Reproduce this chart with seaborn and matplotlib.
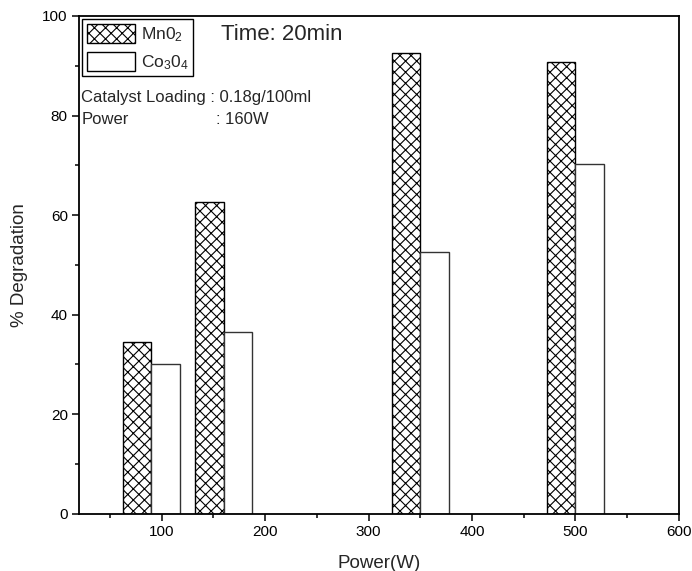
import numpy as np
import pandas as pd
import matplotlib
matplotlib.use("Agg")
import matplotlib.pyplot as plt
from matplotlib.patches import Patch
from matplotlib.ticker import MultipleLocator
import seaborn as sns

# ---- data ----
power = [90, 160, 350, 500]
mno2 = [34.5, 62.7, 92.6, 90.8]
co3o4 = [30.0, 36.6, 52.5, 70.3]
series_names = ["MnO2", "Co3O4"]
legend_labels = [r"Mn0$_2$", r"Co$_3$0$_4$"]
x_ticks = [100, 200, 300, 400, 500, 600]
y_ticks = [0, 20, 40, 60, 80, 100]

df = pd.DataFrame({
    "Power": power + power,
    "Degradation": mno2 + co3o4,
    "Catalyst": [series_names[0]] * len(power) + [series_names[1]] * len(power),
})

sns.set_style("ticks")
plt.rcParams["font.family"] = ["Liberation Sans", "DejaVu Sans"]
plt.rcParams["mathtext.fontset"] = "custom"
plt.rcParams["mathtext.rm"] = "Liberation Sans"
plt.rcParams["mathtext.it"] = "Liberation Sans:italic"
plt.rcParams["mathtext.default"] = "regular"
plt.rcParams["hatch.linewidth"] = 0.8
plt.rcParams["hatch.color"] = "black"

fig = plt.figure(figsize=(6.92, 5.71), dpi=100)
ax = fig.add_axes([0.114, 0.1004, 0.867, 0.8716])

sns.barplot(data=df, x="Power", y="Degradation", hue="Catalyst",
            hue_order=series_names, native_scale=True, width=0.786,
            palette=["white", "white"], edgecolor="black", linewidth=1.0,
            errorbar=None, legend=False, ax=ax)

for i, cont in enumerate(ax.containers):
    for p in cont.patches:
        p.set_facecolor("white")
        p.set_edgecolor("black" if i == 0 else "#333333")
        if i == 0:
            p.set_hatch("xxx")

ax.set_xlim(20, 600)
ax.set_ylim(0, 100)
ax.set_xticks(x_ticks)
ax.set_yticks(y_ticks)
ax.xaxis.set_minor_locator(MultipleLocator(50))
ax.yaxis.set_minor_locator(MultipleLocator(10))
ax.tick_params(which="both", direction="out", top=False, right=False,
               width=1.1, labelsize=11, color="black", labelcolor="black")
ax.tick_params(which="major", length=5, pad=3)
ax.tick_params(which="minor", length=3)
for s in ax.spines.values():
    s.set_visible(True)
    s.set_linewidth(1.3)
    s.set_color("black")

ax.set_xlabel("Power(W)", fontsize=13.5, labelpad=12)
ax.set_ylabel("% Degradation", fontsize=13.5, labelpad=10)

handles = [
    Patch(facecolor="white", edgecolor="black", hatch="xxx", label=legend_labels[0]),
    Patch(facecolor="white", edgecolor="black", label=legend_labels[1]),
]
leg = ax.legend(handles=handles, loc="upper left", bbox_to_anchor=(0.0, 1.0),
                borderaxespad=0.2, fancybox=False, framealpha=1,
                edgecolor="black", fontsize=12.5, handlelength=2.8,
                handleheight=1.35, handletextpad=0.3, labelspacing=0.45,
                borderpad=0.25)
leg.get_frame().set_linewidth(1.0)

ax.text(0.237, 0.962, "Time: 20min", transform=ax.transAxes, fontsize=16,
        ha="left", va="center")
ax.text(0.004, 0.837, "Catalyst Loading : 0.18g/100ml", transform=ax.transAxes,
        fontsize=12, ha="left", va="center")
ax.text(0.004, 0.793, "Power", transform=ax.transAxes, fontsize=12,
        ha="left", va="center")
ax.text(0.229, 0.793, ": 160W", transform=ax.transAxes, fontsize=12,
        ha="left", va="center")

fig.savefig("out.png", dpi=100)
